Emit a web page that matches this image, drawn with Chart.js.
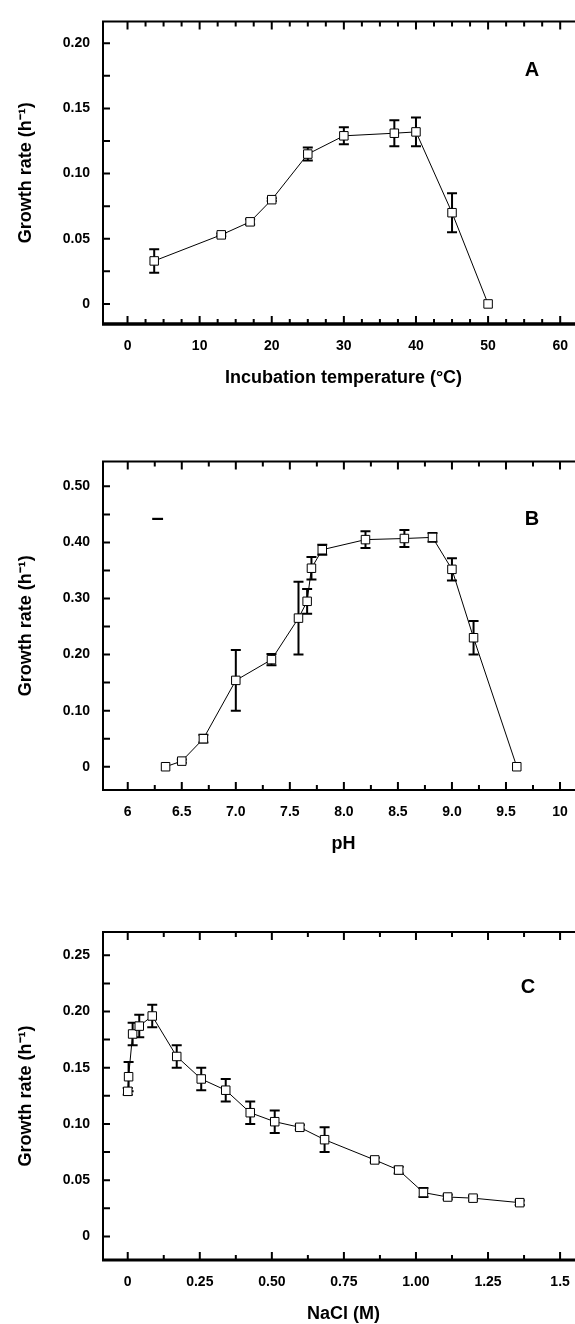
<!DOCTYPE html>
<html>
<head>
<meta charset="utf-8">
<script src="https://cdn.jsdelivr.net/npm/chart.js@4.4.0/dist/chart.umd.min.js"></script>
<style>
  html, body { margin: 0; padding: 0; background: #fff; overflow: hidden; width: 575px; height: 1324px; }
  canvas { position: absolute; left: 0; }
</style>
</head>
<body>
<canvas id="chartA" width="600" height="400" style="top:0px"></canvas>
<canvas id="chartB" width="600" height="426" style="top:440px"></canvas>
<canvas id="chartC" width="600" height="466" style="top:870px"></canvas>
<script>
// Panel A - incubation temperature
const tempC = [3.7, 13, 17, 20, 25, 30, 37, 40, 45, 50];
const rateA = [0.033, 0.053, 0.063, 0.080, 0.115, 0.129, 0.131, 0.132, 0.070, 0];
const errA  = [0.009, 0.001, 0.002, 0.001, 0.005, 0.0065, 0.010, 0.011, 0.015, 0];
const xTicksA  = [0, 10, 20, 30, 40, 50, 60];
const xLabelsA = ['0', '10', '20', '30', '40', '50', '60'];
const yTicksA  = [0, 0.05, 0.10, 0.15, 0.20];
const yLabelsA = ['0', '0.05', '0.10', '0.15', '0.20'];

// Panel B - pH
const pH    = [6.35, 6.5, 6.7, 7.0, 7.33, 7.58, 7.66, 7.70, 7.8, 8.2, 8.56, 8.82, 9.0, 9.2, 9.6];
const rateB = [0, 0.010, 0.050, 0.154, 0.191, 0.265, 0.295, 0.354, 0.387, 0.405, 0.407, 0.409, 0.352, 0.230, 0];
const errB  = [0, 0.003, 0.007, 0.054, 0.010, 0.065, 0.022, 0.020, 0.009, 0.015, 0.015, 0.008, 0.020, 0.030, 0];
const xTicksB  = [6, 6.5, 7, 7.5, 8, 8.5, 9, 9.5, 10];
const xLabelsB = ['6', '6.5', '7.0', '7.5', '8.0', '8.5', '9.0', '9.5', '10'];
const yTicksB  = [0, 0.1, 0.2, 0.3, 0.4, 0.5];
const yLabelsB = ['0', '0.10', '0.20', '0.30', '0.40', '0.50'];

// Panel C - NaCl
const nacl  = [0, 0.003, 0.017, 0.040, 0.085, 0.170, 0.255, 0.340, 0.425, 0.510, 0.597, 0.683, 0.857, 0.940, 1.026, 1.110, 1.198, 1.360];
const rateC = [0.129, 0.142, 0.180, 0.187, 0.196, 0.160, 0.140, 0.130, 0.110, 0.102, 0.097, 0.086, 0.068, 0.059, 0.039, 0.035, 0.034, 0.030];
const errC  = [0.003, 0.013, 0.010, 0.010, 0.010, 0.010, 0.010, 0.010, 0.010, 0.010, 0.002, 0.011, 0.002, 0.003, 0.004, 0.002, 0.002, 0.002];
const xTicksC  = [0, 0.25, 0.5, 0.75, 1.0, 1.25, 1.5];
const xLabelsC = ['0', '0.25', '0.50', '0.75', '1.00', '1.25', '1.5'];
const yTicksC  = [0, 0.05, 0.10, 0.15, 0.20, 0.25];
const yLabelsC = ['0', '0.05', '0.10', '0.15', '0.20', '0.25'];

const FONT = "'Liberation Sans', Arial, Helvetica, sans-serif";
Chart.defaults.font.family = FONT;
Chart.defaults.color = '#000';

// Frame, inner ticks, error bars and panel letter
const framePlugin = {
  id: 'frame',
  beforeDatasetsDraw(chart) {
    const p = chart.config.options.panel;
    const {ctx, scales: {x, y}} = chart;
    ctx.save();
    ctx.strokeStyle = '#000';
    ctx.lineWidth = 2;
    p.xs.forEach((xv, i) => {
      const e = p.err[i];
      if (!e) return;
      const px = x.getPixelForValue(xv);
      const top = y.getPixelForValue(p.ys[i] + e);
      const bot = y.getPixelForValue(p.ys[i] - e);
      ctx.beginPath();
      ctx.moveTo(px, top); ctx.lineTo(px, bot);
      ctx.moveTo(px - 5, top); ctx.lineTo(px + 5, top);
      ctx.moveTo(px - 5, bot); ctx.lineTo(px + 5, bot);
      ctx.stroke();
    });
    ctx.restore();
  },
  afterDraw(chart) {
    const p = chart.config.options.panel;
    const {ctx, chartArea: a, scales: {x, y}} = chart;
    ctx.save();
    ctx.strokeStyle = '#000';
    ctx.lineCap = 'butt';

    // box
    ctx.lineWidth = 2;
    ctx.beginPath();
    ctx.moveTo(a.left, a.bottom); ctx.lineTo(a.left, a.top);
    ctx.lineTo(a.right, a.top); ctx.lineTo(a.right, a.bottom);
    ctx.stroke();
    ctx.lineWidth = p.bottomWidth;
    ctx.beginPath();
    ctx.moveTo(a.left - 1, a.bottom); ctx.lineTo(a.right + 1, a.bottom);
    ctx.stroke();

    // x ticks, bottom and top, pointing inside
    ctx.lineWidth = 2;
    ctx.beginPath();
    for (let i = 0; ; i++) {
      const v = p.xTicks[0] + i * p.xMinor;
      if (v > x.max) break;
      const major = p.xTicks.some(t => Math.abs(t - v) < 1e-9);
      const len = major ? 8 : 5;
      const px = x.getPixelForValue(v);
      ctx.moveTo(px, a.bottom); ctx.lineTo(px, a.bottom - len);
      ctx.moveTo(px, a.top); ctx.lineTo(px, a.top + len);
    }
    // y ticks
    for (let i = 0; ; i++) {
      const v = p.yTicks[0] + i * p.yMinor;
      if (v > y.max) break;
      const py = y.getPixelForValue(v);
      ctx.moveTo(a.left, py); ctx.lineTo(a.left + 7, py);
    }
    ctx.stroke();

    // panel letter
    ctx.fillStyle = '#000';
    ctx.textAlign = 'center';
    ctx.textBaseline = 'middle';
    ctx.font = 'bold 20px ' + FONT;
    ctx.fillText(p.letter[0], x.getPixelForValue(p.letter[1]), y.getPixelForValue(p.letter[2]));
    if (p.mark) {
      ctx.font = 'bold 22px ' + FONT;
      ctx.fillText(p.mark[0], x.getPixelForValue(p.mark[1]), y.getPixelForValue(p.mark[2]));
    }
    ctx.restore();
  }
};

function makePanel(id, cfg) {
  const tickFont = {family: FONT, size: 14, weight: 'bold'};
  const titleFont = {family: FONT, size: 18, weight: 'bold'};
  return new Chart(document.getElementById(id), {
    type: 'scatter',
    data: {
      datasets: [{
        data: cfg.xs.map((v, i) => ({x: v, y: cfg.ys[i]})),
        showLine: true,
        borderColor: '#000',
        borderWidth: 1,
        pointStyle: 'rect',
        pointRadius: 6,
        pointBorderWidth: 1,
        pointBorderColor: '#000',
        pointBackgroundColor: '#fff',
        tension: 0
      }]
    },
    options: {
      panel: cfg,
      responsive: false,
      animation: false,
      layout: {padding: {top: cfg.padTop, right: 16, left: 0, bottom: 0}},
      plugins: {legend: {display: false}, tooltip: {enabled: false}},
      scales: {
        x: {
          type: 'linear',
          min: cfg.xRange[0],
          max: cfg.xRange[1],
          grid: {display: false, drawTicks: false},
          border: {display: false},
          afterBuildTicks: s => { s.ticks = cfg.xTicks.map(v => ({value: v})); },
          afterFit: s => { s.height = 76; },
          ticks: {
            autoSkip: false, maxRotation: 0, padding: 14, color: '#000', font: tickFont,
            callback: (v, i) => cfg.xLabels[i]
          },
          title: {display: true, text: cfg.xTitle, color: '#000', font: titleFont, padding: {top: 0, bottom: 11}}
        },
        y: {
          type: 'linear',
          min: cfg.yRange[0],
          max: cfg.yRange[1],
          grid: {display: false, drawTicks: false},
          border: {display: false},
          afterBuildTicks: s => { s.ticks = cfg.yTicks.map(v => ({value: v})); },
          afterFit: s => { s.width = 103; },
          ticks: {
            autoSkip: false, padding: 13, color: '#000', font: tickFont,
            callback: (v, i) => cfg.yLabels[i]
          },
          title: {display: true, text: 'Growth rate (h\u207B\u00B9)', color: '#000', font: titleFont, padding: {top: 15, bottom: 0}}
        }
      }
    },
    plugins: [framePlugin]
  });
}

makePanel('chartA', {
  xs: tempC, ys: rateA, err: errA,
  xTicks: xTicksA, xLabels: xLabelsA, yTicks: yTicksA, yLabels: yLabelsA,
  xRange: [-3.4, 63.3], yRange: [-0.0154, 0.2168], xMinor: 2.5, yMinor: 0.025,
  xTitle: 'Incubation temperature (°C)', letter: ['A', 56.1, 0.179],
  padTop: 7, bottomWidth: 3.5
});

makePanel('chartB', {
  xs: pH, ys: rateB, err: errB,
  xTicks: xTicksB, xLabels: xLabelsB, yTicks: yTicksB, yLabels: yLabelsB,
  xRange: [5.771, 10.222], yRange: [-0.0415, 0.5445], xMinor: 0.25, yMinor: 0.05,
  xTitle: 'pH', letter: ['B', 9.74, 0.441], mark: ['\u2013', 6.276, 0.442],
  padTop: 21, bottomWidth: 2
});

makePanel('chartC', {
  xs: nacl, ys: rateC, err: errC,
  xTicks: xTicksC, xLabels: xLabelsC, yTicks: yTicksC, yLabels: yLabelsC,
  xRange: [-0.0858, 1.583], yRange: [-0.021, 0.2707], xMinor: 0.125, yMinor: 0.025,
  xTitle: 'NaCl (M)', letter: ['C', 1.389, 0.2218],
  padTop: 62, bottomWidth: 3
});
</script>
</body>
</html>
